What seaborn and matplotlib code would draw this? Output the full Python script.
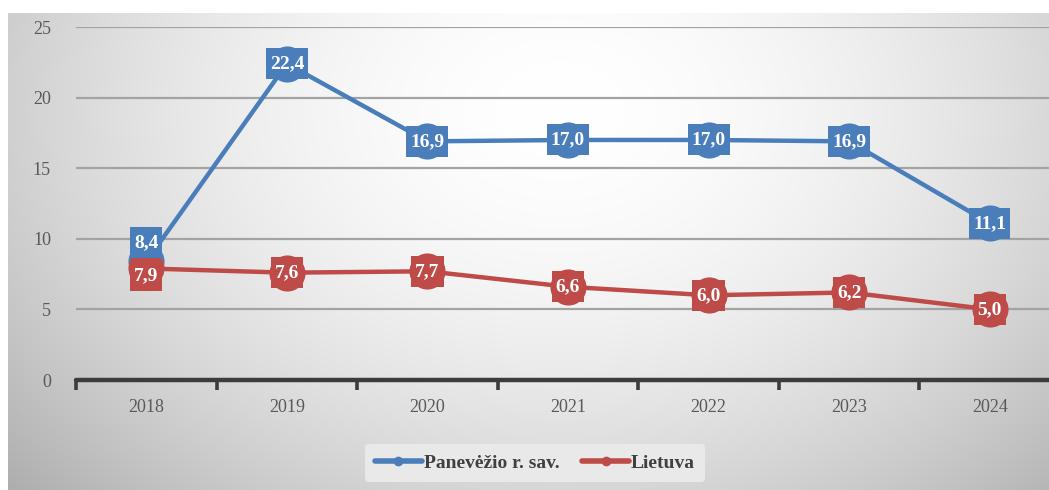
import numpy as np
import pandas as pd
import matplotlib
matplotlib.use("Agg")
import matplotlib.pyplot as plt
from matplotlib.lines import Line2D
from matplotlib.path import Path
from matplotlib.ticker import FixedLocator
import seaborn as sns

years = ["2018", "2019", "2020", "2021", "2022", "2023", "2024"]
panevezio = [8.4, 22.4, 16.9, 17.0, 17.0, 16.9, 11.1]
lietuva = [7.9, 7.6, 7.7, 6.6, 6.0, 6.2, 5.0]
series_names = ["Panevėžio r. sav.", "Lietuva"]
y_ticks = [0, 5, 10, 15, 20, 25]

BLUE = "#4a7ebb"
RED = "#be4b48"
TEXT = "#595959"
SERIF = "Liberation Serif"

sns.set_theme(style="white")
plt.rcParams["font.family"] = [SERIF, "DejaVu Serif"]

W, H = 1049, 490
DPI = 100
fig = plt.figure(figsize=(W / DPI, H / DPI), dpi=DPI, facecolor="white")

# shaded panel behind the plot
panel_top = 13
ax_bg = fig.add_axes([8 / W, 0, 1 - 8 / W, (H - panel_top) / H], zorder=-2)
gx = np.linspace(8, W, 400)
gy = np.linspace(panel_top, H, 200)
X, Y = np.meshgrid(gx, gy)
r = np.sqrt(((X - 560) / 640) ** 2 + ((Y - 110) / 480) ** 2)
shade = 1.0 - 0.24 * np.clip(r, 0, 1.2) ** 1.8
ax_bg.imshow(np.dstack([shade] * 3), aspect="auto", extent=[0, 1, 0, 1],
             interpolation="bilinear", vmin=0, vmax=1)
ax_bg.set_axis_off()

# main plotting area (right end runs past the figure edge)
left_px, right_px, top_px, bottom_px = 76, 1060, 27, 380
ax = fig.add_axes([left_px / W, (H - bottom_px) / H,
                   (right_px - left_px) / W, (bottom_px - top_px) / H])
ax.patch.set_alpha(0)

df = pd.DataFrame({
    "year": list(range(len(years))) * 2,
    "value": panevezio + lietuva,
    "series": [series_names[0]] * len(years) + [series_names[1]] * len(years),
})

for name, color in zip(series_names, [BLUE, RED]):
    sns.lineplot(data=df[df["series"] == name], x="year", y="value", ax=ax,
                 color=color, linewidth=3.2, marker="o", markersize=26,
                 markeredgewidth=0, legend=False, zorder=3)

BOX_PAD_X = 4.0 * DPI / 100   # pixels either side of the text
BOX_H = 31.0 * DPI / 100      # fixed box height in pixels


def label_box(x0, y0, width, height, mutation_size):
    """Fixed-height rectangle around a value label."""
    cy = y0 + height / 2
    xa, xb = x0 - BOX_PAD_X, x0 + width + BOX_PAD_X
    ya, yb = cy - BOX_H / 2, cy + BOX_H / 2
    return Path([(xa, ya), (xb, ya), (xb, yb), (xa, yb), (xa, ya)], closed=True)


# value labels in boxes
label_shift = {(0, 0): 19, (1, 0): -7}
for si, (vals, color) in enumerate([(panevezio, BLUE), (lietuva, RED)]):
    for i, v in enumerate(vals):
        dy = label_shift.get((si, i), 0)
        ax.annotate(f"{v:.1f}".replace(".", ","), (i, v),
                    xytext=(0, dy), textcoords="offset pixels",
                    ha="center", va="center", fontsize=14, fontweight="bold",
                    color="white", family=SERIF, zorder=5,
                    bbox=dict(boxstyle=label_box, fc=color, ec="none"))

ax.set_xlim(-0.5, len(years) - 0.5)
ax.set_ylim(0, 25)
ax.set_yticks(y_ticks)
ax.set_yticklabels([str(t) for t in y_ticks])
ax.set_xticks(range(len(years)))
ax.set_xticklabels(years)
ax.xaxis.set_minor_locator(FixedLocator(np.arange(-0.5, len(years), 1.0)))
ax.set_xlabel("")
ax.set_ylabel("")

for t in y_ticks[1:]:
    ax.axhline(t, color="#a3a3a3", linewidth=1.6, zorder=1)
ax.axhline(0, color="#3c3c3c", linewidth=3.2, zorder=2, clip_on=False)

for s in ax.spines.values():
    s.set_visible(False)

ax.tick_params(axis="y", length=0, pad=18, labelsize=13, labelcolor=TEXT)
ax.tick_params(axis="x", which="major", bottom=False, length=0, pad=14,
               labelsize=13, labelcolor=TEXT)
ax.tick_params(axis="x", which="minor", bottom=True, length=7, width=2.6,
               color="#3c3c3c", direction="out")
ax.grid(False)

handles = [Line2D([], [], color=c, linewidth=4, marker="o", markersize=7,
                  markeredgewidth=0) for c in (BLUE, RED)]
leg = fig.legend(handles, series_names, loc="center",
                 bbox_to_anchor=(535 / W, 1 - 463 / H), ncol=2, frameon=True,
                 handlelength=2.4, handletextpad=0.1, columnspacing=1.2,
                 borderpad=0.5,
                 prop={"family": SERIF, "weight": "bold", "size": 14})
leg.get_frame().set_facecolor("#e9e9e9")
leg.get_frame().set_edgecolor("none")
leg.get_frame().set_alpha(1)
for txt in leg.get_texts():
    txt.set_color("#404040")

fig.savefig("out.png", dpi=DPI, facecolor="white")
